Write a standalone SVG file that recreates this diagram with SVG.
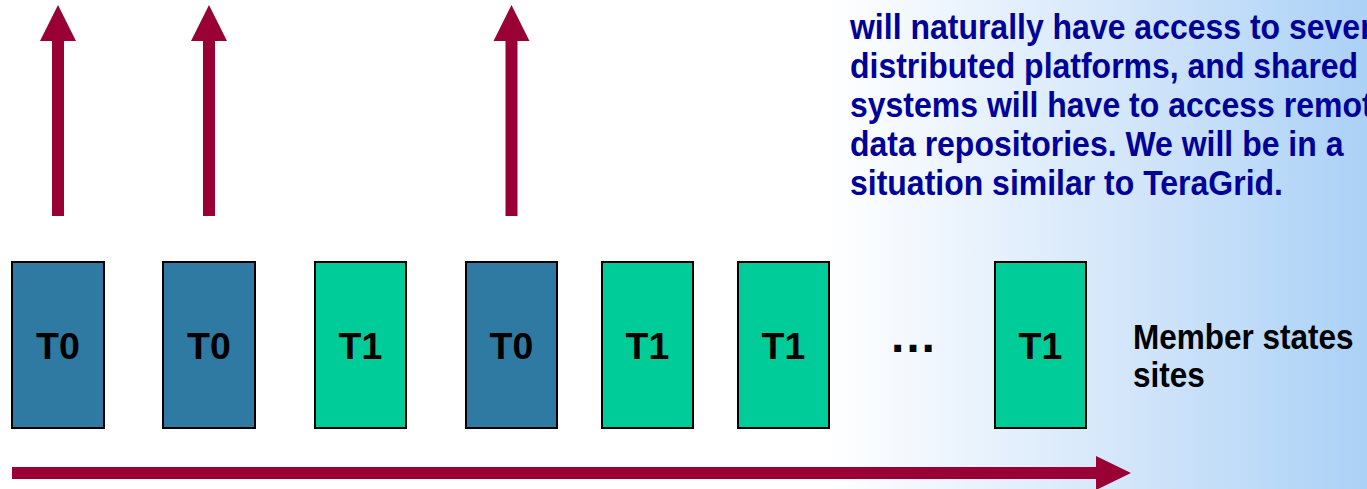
<svg xmlns="http://www.w3.org/2000/svg" width="1367" height="489" viewBox="0 0 1367 489">
<defs>
<linearGradient id="bg" gradientUnits="userSpaceOnUse" x1="830" y1="0" x2="1367" y2="0">
<stop offset="0" stop-color="#ffffff"/>
<stop offset="0.55" stop-color="#d3e6fa"/>
<stop offset="1" stop-color="#abd1f6"/>
</linearGradient>
<style>
.t0{fill:#2e7aa2;stroke:#000;stroke-width:2}
.t1{fill:#00cc99;stroke:#000;stroke-width:2}
.lbl{font-family:"Liberation Sans",Arial,sans-serif;font-weight:bold;font-size:37.5px;fill:#000;text-anchor:middle}
.para{font-family:"Liberation Sans",Arial,sans-serif;font-weight:bold;font-size:35px;fill:#000099}
.side{font-family:"Liberation Sans",Arial,sans-serif;font-weight:bold;font-size:35px;fill:#000}
.arr{fill:#990033}
</style>
</defs>
<rect x="0" y="0" width="1367" height="489" fill="url(#bg)"/>

<g id="connectors">
<polygon class="arr" points="52,216 52,41 40,41 58,5 76,41 64,41 64,216"/>
<polygon class="arr" points="203,216 203,41 191,41 209,5 227,41 215,41 215,216"/>
<polygon class="arr" points="505.5,216 505.5,41 493.5,41 511.5,5 529.5,41 517.5,41 517.5,216"/>
<polygon class="arr" points="12,467 1096,467 1096,456 1131,473 1096,490 1096,479 12,479"/>
</g>

<g id="node-1"><rect class="t0" x="12" y="262" width="92" height="166"/><text class="lbl" x="58" y="359">T0</text></g>
<g id="node-2"><rect class="t0" x="163" y="262" width="92" height="166"/><text class="lbl" x="209" y="359">T0</text></g>
<g id="node-3"><rect class="t1" x="315" y="262" width="91" height="166"/><text class="lbl" x="360.5" y="359">T1</text></g>
<g id="node-4"><rect class="t0" x="466" y="262" width="91" height="166"/><text class="lbl" x="511.5" y="359">T0</text></g>
<g id="node-5"><rect class="t1" x="602" y="262" width="91" height="166"/><text class="lbl" x="647.5" y="359">T1</text></g>
<g id="node-6"><rect class="t1" x="738" y="262" width="91" height="166"/><text class="lbl" x="783.5" y="359">T1</text></g>
<g id="ellipsis"><text class="lbl" x="913" y="352" font-size="48" style="font-size:48px">…</text></g>
<g id="node-7"><rect class="t1" x="995" y="262" width="91" height="166"/><text class="lbl" x="1040.5" y="359">T1</text></g>

<g id="side-label" transform="translate(1133 0) scale(0.9 1)">
<text class="side" x="0" y="349">Member states</text>
<text class="side" x="0" y="387">sites</text>
</g>

<g id="paragraph" transform="translate(850 0) scale(0.914 1)">
<text class="para" x="0" y="39">will naturally have access to several</text>
<text class="para" x="0" y="78">distributed platforms, and shared</text>
<text class="para" x="0" y="117">systems will have to access remote</text>
<text class="para" x="0" y="156">data repositories. We will be in a</text>
<text class="para" x="0" y="195">situation similar to TeraGrid.</text>
</g>
</svg>
